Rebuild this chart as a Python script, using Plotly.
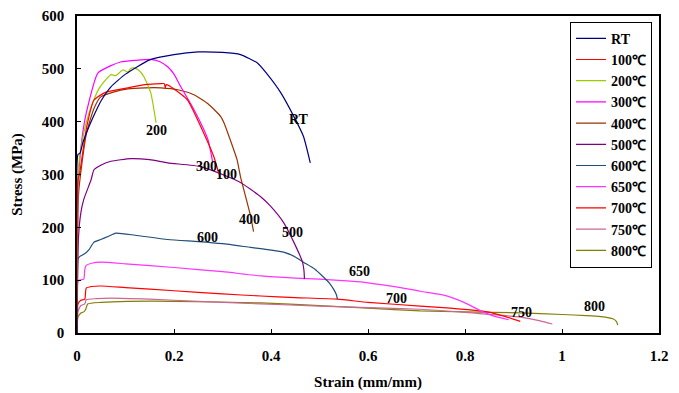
import plotly.graph_objects as go

# ---------------- data ----------------
names = ["RT", "100℃", "200℃", "300℃", "400℃", "500℃", "600℃", "650℃", "700℃", "750℃", "800℃"]
colors = ["#000080", "#FF0000", "#99CC00", "#FF00FF", "#993300", "#800080",
          "#1F4E79", "#FF33FF", "#FF0000", "#CC6699", "#808000"]

rt_strain = [0, 0.002, 0.006, 0.012, 0.02, 0.035, 0.05, 0.07, 0.1, 0.15, 0.2, 0.25, 0.3, 0.337, 0.372, 0.393, 0.42, 0.447, 0.467, 0.481]
rt_stress = [0, 338, 340, 360, 380, 412, 440, 466, 490, 517, 527, 532, 531, 527, 511, 489, 455, 410, 372, 322]

t100_strain = [0, 0.002, 0.005, 0.01, 0.02, 0.035, 0.06, 0.105, 0.14, 0.173, 0.18, 0.182, 0.184, 0.2, 0.228, 0.255, 0.282, 0.293]
t100_stress = [0, 290, 300, 330, 390, 441, 456, 464, 470, 472, 472, 464, 470, 462, 441, 391, 334, 300]

t200_strain = [0, 0.002, 0.005, 0.01, 0.019, 0.03, 0.045, 0.06, 0.07, 0.08, 0.09, 0.095, 0.105, 0.11, 0.117, 0.128, 0.138, 0.152, 0.163]
t200_stress = [0, 300, 330, 360, 398, 430, 462, 480, 489, 487, 495, 498, 494, 500, 502, 497, 485, 455, 398]

t300_strain = [0, 0.002, 0.006, 0.012, 0.02, 0.043, 0.07, 0.09, 0.12, 0.152, 0.17, 0.187, 0.2, 0.214, 0.241, 0.27, 0.28]
t300_stress = [0, 280, 330, 380, 420, 492, 506, 513, 516, 518, 514, 504, 490, 466, 423, 366, 322]

t400_strain = [0, 0.003, 0.01, 0.02, 0.035, 0.049, 0.075, 0.105, 0.14, 0.173, 0.21, 0.241, 0.27, 0.296, 0.303, 0.315, 0.33, 0.337, 0.35, 0.358, 0.364]
t400_stress = [0, 260, 320, 380, 425, 447, 456, 462, 464, 464, 460, 451, 434, 410, 398, 368, 328, 296, 250, 221, 192]

t500_strain = [0, 0.003, 0.008, 0.014, 0.029, 0.035, 0.05, 0.07, 0.111, 0.15, 0.187, 0.255, 0.3, 0.337, 0.358, 0.38, 0.399, 0.426, 0.447, 0.465, 0.468, 0.469]
t500_stress = [0, 180, 228, 253, 290, 309, 318, 325, 330, 328, 322, 315, 300, 285, 272, 257, 240, 209, 172, 134, 118, 102]

t600_strain = [0, 0.001, 0.002, 0.006, 0.014, 0.025, 0.035, 0.049, 0.065, 0.08, 0.12, 0.187, 0.25, 0.3, 0.358, 0.4, 0.426, 0.45, 0.467, 0.49, 0.508, 0.52, 0.529, 0.535, 0.537]
t600_stress = [0, 120, 140, 145, 149, 158, 172, 177, 183, 189, 185, 177, 173, 169, 162, 157, 153, 144, 134, 121, 106, 95, 83, 72, 64]

t650_strain = [0, 0.002, 0.005, 0.014, 0.016, 0.019, 0.03, 0.049, 0.1, 0.2, 0.3, 0.379, 0.45, 0.5, 0.564, 0.6, 0.667, 0.708, 0.749, 0.776, 0.8, 0.837, 0.86, 0.89]
t650_stress = [0, 98, 100, 102, 120, 128, 132, 134, 131, 124, 116, 108, 104, 102, 98, 95, 86, 79, 73, 66, 57, 40, 32, 25]

t700_strain = [0, 0.002, 0.008, 0.016, 0.019, 0.03, 0.049, 0.1, 0.2, 0.3, 0.379, 0.45, 0.537, 0.6, 0.708, 0.77, 0.846, 0.88, 0.914]
t700_stress = [0, 55, 62, 64, 85, 88, 89, 86, 80, 74, 70, 67, 64, 58, 51, 47, 40, 32, 22]

t750_strain = [0, 0.002, 0.008, 0.016, 0.019, 0.04, 0.07, 0.15, 0.25, 0.379, 0.5, 0.6, 0.708, 0.8, 0.914, 0.955, 0.98]
t750_stress = [0, 40, 52, 55, 63, 65, 66, 64, 60, 55, 51, 48, 45, 39, 30, 23, 17]

t800_strain = [0, 0.002, 0.008, 0.014, 0.018, 0.022, 0.05, 0.105, 0.2, 0.379, 0.5, 0.6, 0.708, 0.8, 0.914, 1.0, 1.05, 1.08, 1.105, 1.112, 1.115]
t800_stress = [0, 30, 38, 40, 45, 55, 58, 60, 60, 57, 52, 47, 42, 40, 38, 35, 33, 31, 27, 22, 15]

label_text = ["RT", "200", "300", "100", "400", "500", "600", "650", "700", "750", "800"]
label_x = [0.457, 0.163, 0.267, 0.309, 0.356, 0.444, 0.270, 0.582, 0.658, 0.916, 1.066]
label_y = [404, 383, 315, 300, 215, 190, 181, 117, 66, 38, 51]

x_ticks = [0, 0.2, 0.4, 0.6, 0.8, 1.0, 1.2]
x_tick_labels = ["0", "0.2", "0.4", "0.6", "0.8", "1", "1.2"]
y_ticks = [0, 100, 200, 300, 400, 500, 600]

series = [
    (rt_strain, rt_stress), (t100_strain, t100_stress), (t200_strain, t200_stress),
    (t300_strain, t300_stress), (t400_strain, t400_stress), (t500_strain, t500_stress),
    (t600_strain, t600_stress), (t650_strain, t650_stress), (t700_strain, t700_stress),
    (t750_strain, t750_stress), (t800_strain, t800_stress),
]

FONT = "Liberation Serif"

fig = go.Figure()
for i in range(len(series) - 1, -1, -1):
    xs, ys = series[i]
    fig.add_trace(go.Scatter(
        x=xs, y=ys, mode="lines", name="<b>%s</b>" % names[i],
        line=dict(color=colors[i], width=1.2, shape="spline", smoothing=0.5),
        legendrank=i + 1,
    ))

for t, x, y in zip(label_text, label_x, label_y):
    fig.add_annotation(x=x, y=y, text="<b>%s</b>" % t, showarrow=False,
                       font=dict(family=FONT, size=14, color="black"))

fig.update_layout(
    width=679, height=393,
    margin=dict(l=77, r=20, t=16, b=60),
    paper_bgcolor="white", plot_bgcolor="white",
    font=dict(family=FONT, size=14, color="black"),
    showlegend=True,
    legend=dict(
        x=0.988, y=0.982, xanchor="right", yanchor="top",
        bordercolor="black", borderwidth=1, bgcolor="white",
        font=dict(family=FONT, size=14, color="black"),
        traceorder="normal", itemwidth=30,
    ),
    xaxis=dict(
        range=[0, 1.2], tickvals=x_ticks, ticktext=["<b>%s</b>" % s for s in x_tick_labels],
        ticks="inside", ticklen=4, tickcolor="black", ticklabelstandoff=8,
        showline=True, linecolor="black", linewidth=1.5, mirror=True,
        showgrid=False, zeroline=False, automargin=False,
        title=dict(text="<b>Strain (mm/mm)</b>", font=dict(family=FONT, size=15), standoff=14),
        tickfont=dict(family=FONT, size=15),
    ),
    yaxis=dict(
        range=[0, 600], tickvals=y_ticks, ticktext=["<b>%d</b>" % v for v in y_ticks],
        ticks="inside", ticklen=4, tickcolor="black", ticklabelstandoff=8,
        showline=True, linecolor="black", linewidth=1.5, mirror=True,
        showgrid=False, zeroline=False, automargin=False,
        title=dict(text="<b>Stress (MPa)</b>", font=dict(family=FONT, size=15), standoff=16),
        tickfont=dict(family=FONT, size=15),
    ),
)

fig.write_html("out.html")
